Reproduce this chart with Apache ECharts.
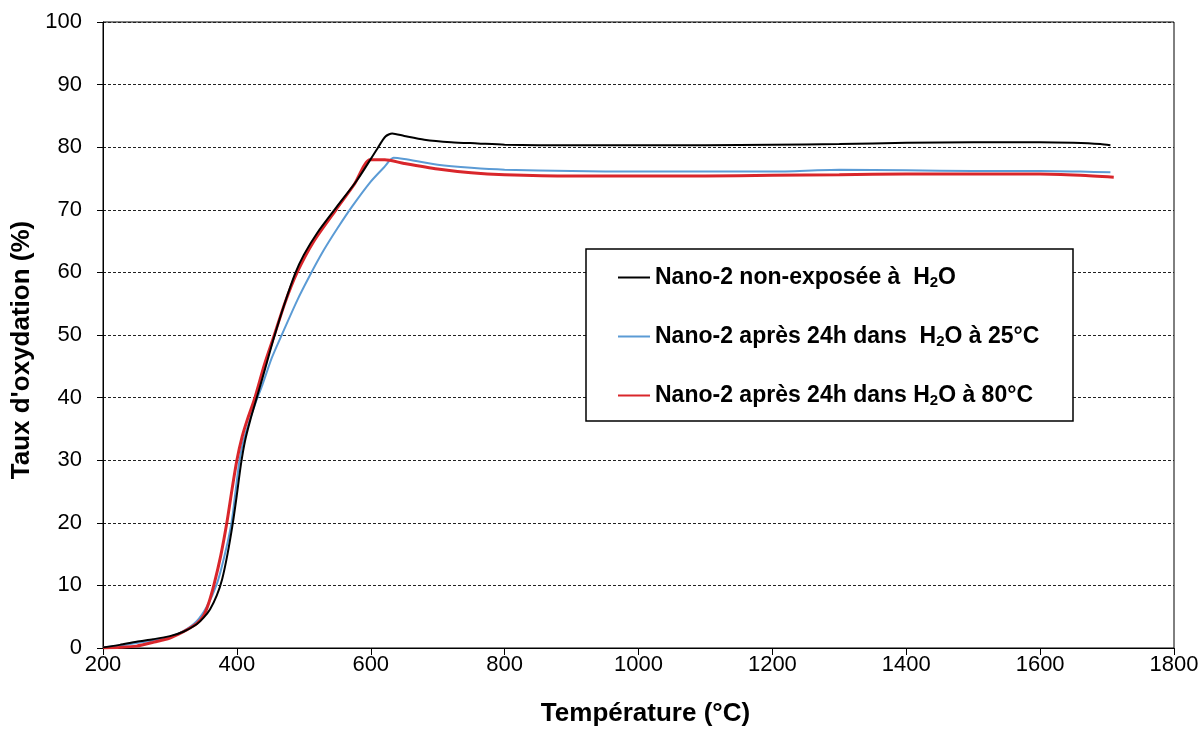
<!DOCTYPE html>
<html>
<head>
<meta charset="utf-8">
<script src="https://cdn.jsdelivr.net/npm/echarts@6/dist/echarts.min.js"></script>
<style>
html,body{margin:0;padding:0;background:#fff;}
#chart{width:1204px;height:733px;}
</style>
</head>
<body>
<div id="chart"></div>
<script>
// ---- Data ----
const seriesNames = [
  'Nano-2 non-exposée à  H2O',
  'Nano-2 après 24h dans  H2O à 25°C',
  'Nano-2 après 24h dans H2O à 80°C'
];
const xTicks = [200, 400, 600, 800, 1000, 1200, 1400, 1600, 1800];
const yTicks = [0, 10, 20, 30, 40, 50, 60, 70, 80, 90, 100];

// Nano-2 non-exposée à H2O  [température °C, taux %]
const blackData = [
  [200,0.1],[225,0.5],[250,1.0],[275,1.4],[300,1.9],[320,2.6],[340,3.8],[350,4.8],
  [360,6.2],[370,8.4],[378,11],[386,15],[394,20],[400,24.5],[406,29.3],[412,33],
  [420,36.4],[432,40.8],[444,45.3],[456,49.8],[470,54.6],[487,59.8],[500,62.8],[520,66.3],
  [548,70.3],[580,74.8],[610,79.8],[622,81.7],[632,82.2],[650,81.8],[680,81.2],[720,80.8],
  [760,80.6],[800,80.4],[900,80.3],[1000,80.3],[1100,80.3],[1200,80.4],[1300,80.5],
  [1400,80.7],[1500,80.8],[1600,80.8],[1650,80.7],[1690,80.5],[1705,80.3]
];
// Nano-2 après 24h dans H2O à 25°C
const blueData = [
  [200,0.1],[225,0.4],[250,0.8],[275,1.2],[300,1.8],[320,2.7],[340,4.3],[355,6.6],
  [370,10.2],[381,14.5],[392,20],[398,25],[404,30],[410,33.2],[418,36],[428,39.2],
  [438,42],[452,46.3],[467,50],[490,55.5],[509,59.5],[529,63.4],[550,67],[572,70.5],
  [600,74.5],[620,76.8],[634,78.3],[650,78.1],[700,77.2],[750,76.7],[800,76.4],
  [900,76.2],[1000,76.1],[1100,76.1],[1200,76.1],[1300,76.4],[1400,76.3],[1500,76.2],
  [1600,76.2],[1660,76.1],[1705,76.0]
];
// Nano-2 après 24h dans H2O à 80°C
const redData = [
  [200,0.0],[225,0.1],[250,0.3],[275,0.9],[300,1.6],[320,2.6],[340,3.9],[350,5.1],
  [358,7.2],[366,10.2],[376,14.8],[385,20],[393,25.5],[400,30],[408,33.8],[416,36.6],
  [427,40],[441,45.2],[456,50],[472,55.2],[490,60],[515,65],[548,70],[575,74],
  [599,78],[621,78],[650,77.4],[700,76.5],[750,75.9],[800,75.6],[900,75.4],
  [1000,75.4],[1100,75.4],[1200,75.5],[1300,75.6],[1400,75.7],[1500,75.7],
  [1600,75.7],[1660,75.5],[1710,75.2]
];

const colors = ['#000000', '#5b9bd5', '#d9262b'];
const widths = [2, 2, 3];
const FONT = '"Liberation Sans", Arial, Helvetica, sans-serif';

function richName(name) {
  const i = name.indexOf('H2O');
  return '{t|' + name.slice(0, i) + 'H}{s|2}{t|O' + name.slice(i + 3) + '}';
}

const chart = echarts.init(document.getElementById('chart'), null, {renderer: 'canvas'});
chart.setOption({
  animation: false,
  backgroundColor: '#fff',
  grid: {left: 103, right: 30, top: 22, bottom: 85, show: true, borderColor: '#000', borderWidth: 1, backgroundColor: 'transparent'},
  xAxis: {
    type: 'value', min: xTicks[0], max: xTicks[xTicks.length - 1], interval: 200,
    name: 'Température (°C)', nameLocation: 'middle', nameGap: 53,
    nameTextStyle: {fontFamily: FONT, fontWeight: 'bold', fontSize: 26, color: '#000', padding: [0, 0, 0, 14]},
    axisLine: {lineStyle: {color: '#000', width: 1}},
    axisTick: {show: true, inside: false, length: 7, lineStyle: {color: '#000'}},
    axisLabel: {fontFamily: FONT, fontSize: 22, color: '#000', margin: 6, formatter: v => String(v)},
    splitLine: {show: false}
  },
  yAxis: {
    type: 'value', min: yTicks[0], max: yTicks[yTicks.length - 1], interval: 10,
    name: "Taux d'oxydation (%)", nameLocation: 'middle', nameGap: 67,
    nameTextStyle: {fontFamily: FONT, fontWeight: 'bold', fontSize: 26, color: '#000', padding: [0, 30, 0, 0]},
    axisLine: {show: true, lineStyle: {color: '#000', width: 1}},
    axisTick: {show: true, inside: false, length: 6, lineStyle: {color: '#000'}},
    axisLabel: {fontFamily: FONT, fontSize: 22, color: '#000', margin: 21, formatter: v => String(v)},
    splitLine: {show: true, lineStyle: {color: '#222', width: 1, type: [3, 2]}}
  },
  graphic: [{
    type: 'rect', z: 3,
    shape: {x: 586, y: 249, width: 487, height: 172},
    style: {fill: '#fff', stroke: '#000', lineWidth: 1.5}
  }],
  legend: {
    z: 5,
    orient: 'vertical', left: 618, top: 264, padding: 0,
    itemWidth: 32, itemHeight: 2, itemGap: 32, icon: 'rect',
    data: seriesNames,
    formatter: richName,
    textStyle: {
      fontFamily: FONT, fontWeight: 'bold', fontSize: 23, color: '#000', lineHeight: 27,
      rich: {
        t: {fontFamily: FONT, fontWeight: 'bold', fontSize: 23, color: '#000', lineHeight: 27},
        s: {fontFamily: FONT, fontWeight: 'bold', fontSize: 15, color: '#000', lineHeight: 27, padding: [10, 0, 0, 0]}
      }
    }
  },
  series: [blackData, blueData, redData].map((d, i) => ({
    name: seriesNames[i], type: 'line', data: d, showSymbol: false,
    smooth: 0.25,
    z: 2 + (i === 0 ? 1 : 0),
    color: colors[i],
    lineStyle: {color: colors[i], width: widths[i]},
    itemStyle: {color: colors[i]}
  }))
});
</script>
</body>
</html>
